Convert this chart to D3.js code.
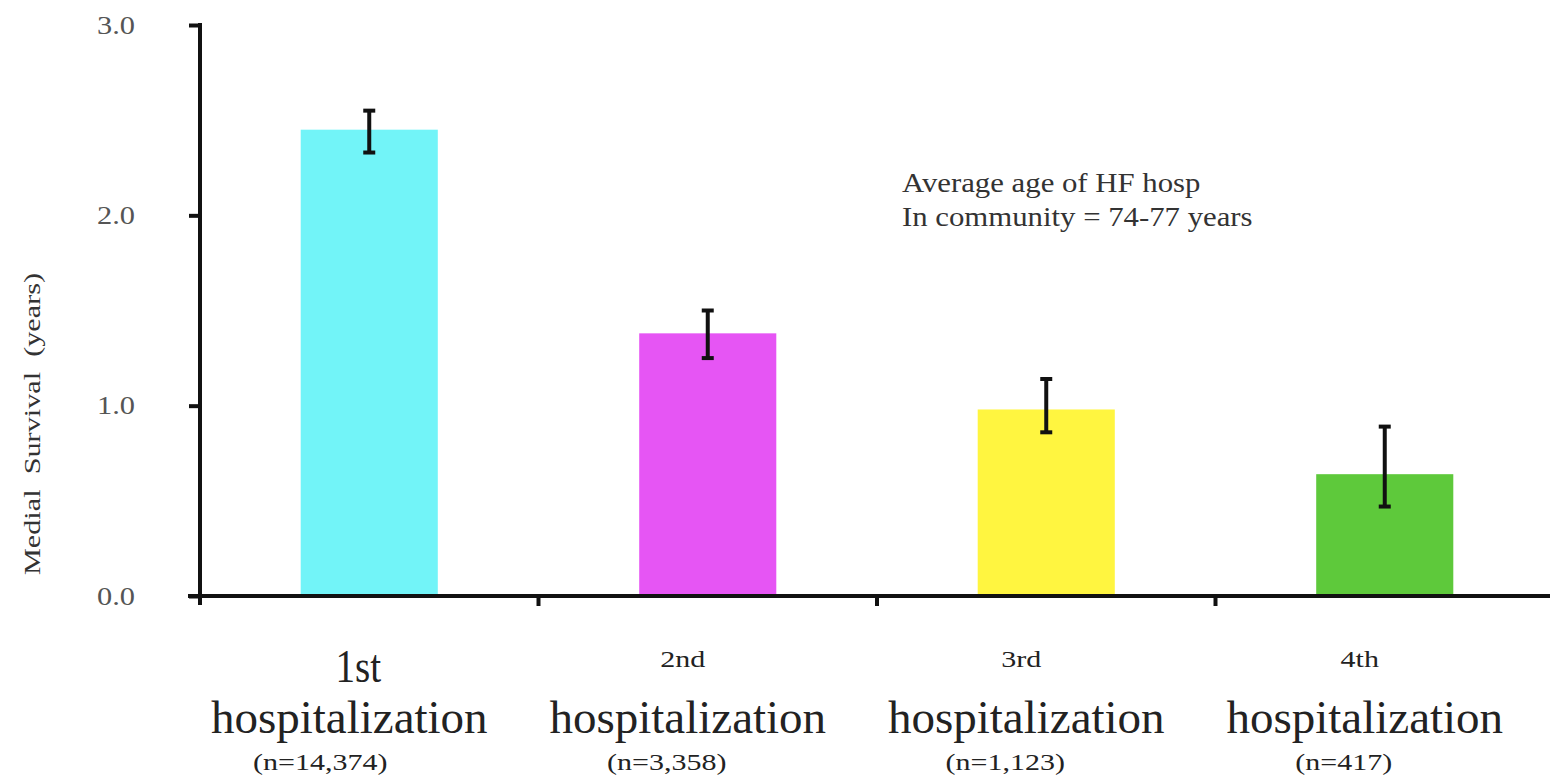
<!DOCTYPE html>
<html>
<head>
<meta charset="utf-8">
<script src="https://cdn.jsdelivr.net/npm/d3@7"></script>
<style>
  html, body { margin: 0; padding: 0; background: #fff; }
  svg { display: block; }
  text { font-family: "Liberation Serif", "Times New Roman", serif; }
</style>
</head>
<body>
<svg id="chart" width="1550" height="781"></svg>
<script>
let ordinals = ["1st", "2nd", "3rd", "4th"];
let counts = ["(n=14,374)", "(n=3,358)", "(n=1,123)", "(n=417)"];
let survival = [2.45, 1.38, 0.98, 0.64];
let errLow = [2.33, 1.25, 0.86, 0.47];
let errHigh = [2.55, 1.50, 1.14, 0.89];
let barColors = ["#72f4f8", "#e655f4", "#fff540", "#5ec93b"];
let yTicks = [0, 1, 2, 3];
let note = ["Average age of HF hosp", "In community = 74-77 years"];

function drawBarChart(holder){
  let margin = {"left": 200, "top": 25, "bottom": 185, "right": -4};
  let width = 1550;
  let height = 781;
  let svg = d3.select(holder);

  let data = ordinals.map((d, i) => ({
    name: d, n: counts[i], value: survival[i], lo: errLow[i], hi: errHigh[i], color: barColors[i]
  }));

  let x = d3.scaleBand()
    .domain(ordinals)
    .range([margin.left, width - margin.right])
    .paddingInner(0.595)
    .paddingOuter(0.2975);

  let y = d3.scaleLinear()
    .domain([0, 3])
    .range([height - margin.bottom, margin.top]);

  let step = x.step();
  let half = step * x.paddingInner() / 2;

  // bars
  svg.append("g").attr("class", "bars")
    .selectAll("rect")
    .data(data)
    .join("rect")
    .attr("x", d => x(d.name))
    .attr("y", d => y(d.value))
    .attr("width", x.bandwidth())
    .attr("height", d => y(0) - y(d.value))
    .attr("fill", d => d.color);

  // error bars
  let errG = svg.append("g").attr("class", "errors")
    .attr("stroke", "#111")
    .attr("stroke-width", 4);
  let cx = d => x(d.name) + x.bandwidth() / 2;
  errG.selectAll("line.stem")
    .data(data)
    .join("line")
    .attr("class", "stem")
    .attr("x1", cx).attr("x2", cx)
    .attr("y1", d => y(d.lo)).attr("y2", d => y(d.hi));
  errG.selectAll("line.capHi")
    .data(data)
    .join("line")
    .attr("class", "capHi")
    .attr("x1", d => cx(d) - 6).attr("x2", d => cx(d) + 6)
    .attr("y1", d => y(d.hi)).attr("y2", d => y(d.hi));
  errG.selectAll("line.capLo")
    .data(data)
    .join("line")
    .attr("class", "capLo")
    .attr("x1", d => cx(d) - 6).attr("x2", d => cx(d) + 6)
    .attr("y1", d => y(d.lo)).attr("y2", d => y(d.lo));

  // y axis
  let axisY = svg.append("g").attr("class", "axisY")
    .attr("transform", `translate(${margin.left},0)`)
    .call(d3.axisLeft(y).tickValues(yTicks).tickFormat(d3.format(".1f")).tickSize(11).tickPadding(0));
  axisY.select(".domain").remove();
  axisY.selectAll(".tick line").attr("stroke", "#111").attr("stroke-width", 4);
  axisY.selectAll(".tick text")
    .attr("x", 0)
    .attr("fill", "#555")
    .attr("font-size", 26)
    .attr("font-family", "Liberation Serif, serif")
    .attr("text-anchor", "end")
    .attr("transform", "translate(-65,0) scale(1.17,1)");
  axisY.append("line")
    .attr("x1", 0).attr("x2", 0)
    .attr("y1", y(3) - 2).attr("y2", y(0) + 9)
    .attr("stroke", "#111").attr("stroke-width", 4);

  // x axis with ticks on band boundaries
  let axisX = svg.append("g").attr("class", "axisX");
  axisX.append("line")
    .attr("x1", margin.left - 12).attr("x2", width)
    .attr("y1", y(0)).attr("y2", y(0))
    .attr("stroke", "#111").attr("stroke-width", 4);
  axisX.selectAll("line.tick")
    .data(ordinals)
    .join("line")
    .attr("class", "tick")
    .attr("x1", d => x(d) + x.bandwidth() + half)
    .attr("x2", d => x(d) + x.bandwidth() + half)
    .attr("y1", y(0)).attr("y2", y(0) + 10)
    .attr("stroke", "#111").attr("stroke-width", 4);

  // category labels
  let labelG = svg.append("g").attr("class", "labels").attr("fill", "#222");
  let stretched = function(sel, px, py, size, sx){
    sel.attr("font-size", size)
      .attr("text-anchor", "middle")
      .attr("transform", (d, i) => `translate(${px(d, i)},${py}) scale(${sx},1)`);
  };
  labelG.selectAll("text.ord")
    .data(data)
    .join("text")
    .attr("class", "ord")
    .text(d => d.name)
    .call(stretched, (d, i) => cx(d) - (i === 0 ? 11 : 25), 667, 24, 1.25)
    .filter((d, i) => i === 0)
    .attr("transform", d => `translate(${cx(d) - 11},682) scale(0.85,1)`)
    .attr("font-size", 46);
  labelG.selectAll("text.hosp")
    .data(data)
    .join("text")
    .attr("class", "hosp")
    .text("hospitalization")
    .call(stretched, d => cx(d) - 20, 733, 47, 1);
  labelG.selectAll("text.count")
    .data(data)
    .join("text")
    .attr("class", "count")
    .text(d => d.n)
    .call(stretched, (d, i) => cx(d) - (i === 0 ? 49 : 41), 770, 24, 1.25);

  // y axis title
  svg.append("text")
    .attr("transform", "translate(40,424) rotate(-90) scale(1.26,1)")
    .attr("text-anchor", "middle")
    .attr("font-size", 24)
    .attr("fill", "#333")
    .attr("xml:space", "preserve")
    .text("Medial  Survival  (years)");

  // annotation
  svg.append("g").attr("class", "note")
    .selectAll("text")
    .data(note)
    .join("text")
    .attr("transform", (d, i) => `translate(902,${192 + i * 34}) scale(1.14,1)`)
    .attr("font-size", 27)
    .attr("fill", "#333")
    .text(d => d);
}

drawBarChart("#chart");
</script>
</body>
</html>
